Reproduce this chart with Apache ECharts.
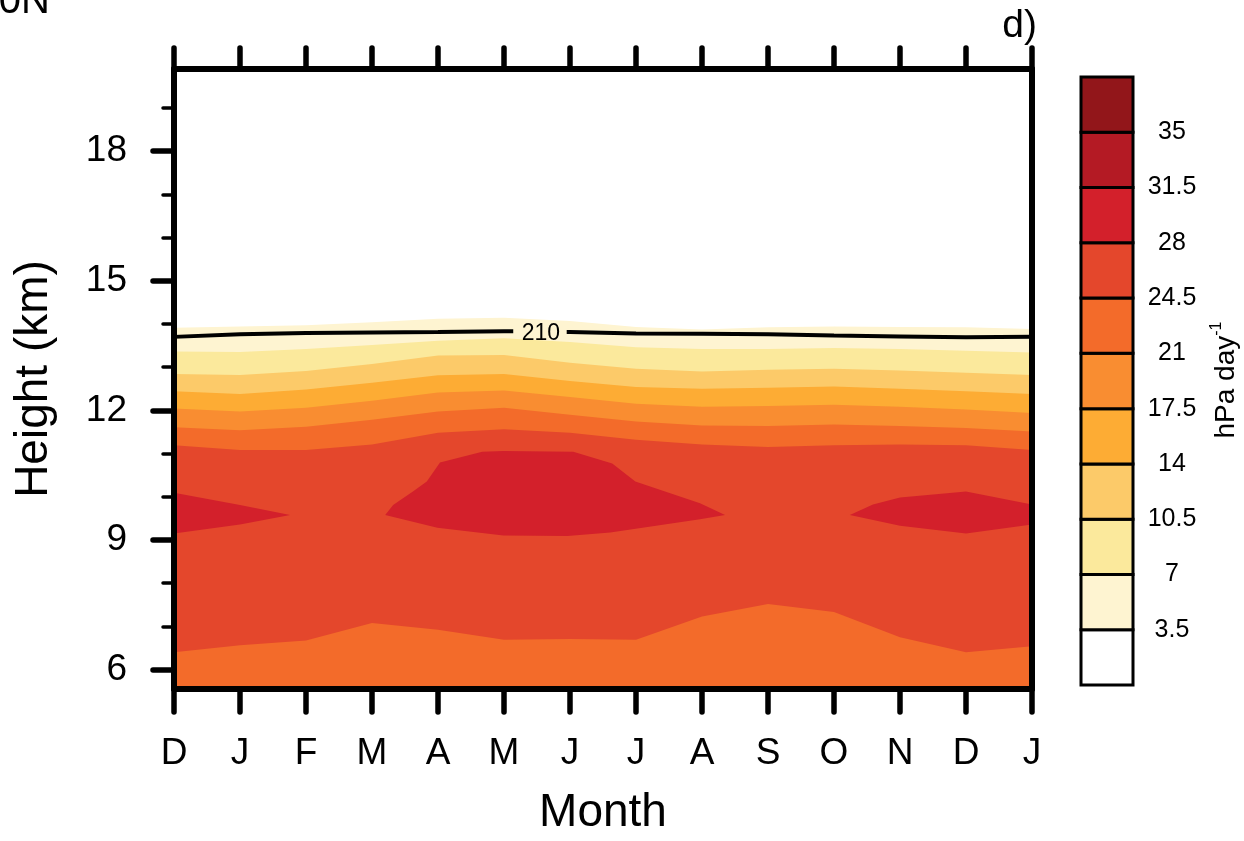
<!DOCTYPE html>
<html><head><meta charset="utf-8">
<script src="https://cdn.jsdelivr.net/npm/echarts@6/dist/echarts.min.js"></script>
<style>html,body{margin:0;padding:0;background:#fff}#c{width:1244px;height:841px}</style>
</head><body><div id="c"></div>
<script>
// ---------- data ----------
const months = ['D','J','F','M','A','M','J','J','A','S','O','N','D','J'];
const monthIdx = [0,1,2,3,4,5,6,7,8,9,10,11,12,13];
const levels = [3.5, 7, 10.5, 14, 17.5, 21, 24.5, 28, 31.5, 35];
const bandColors = ['#FFFFFF','#FEF4D1','#FBE99C','#FCCA69','#FDAC34','#F98D31','#F36B2A','#E4472C','#D3202B','#B41A24','#92161A'];
const yMajorTicks = [6, 9, 12, 15, 18];
const yMinorTicks = [7, 8, 10, 11, 13, 14, 16, 17, 19];

// contour heights (km) at each month column
const c3_5  = [13.91,13.94,13.97,14.04,14.12,14.14,14.07,13.93,13.87,13.92,13.94,13.93,13.92,13.88];
const c7    = [13.36,13.35,13.42,13.51,13.61,13.67,13.58,13.46,13.42,13.42,13.44,13.42,13.38,13.34];
const c10_5 = [12.84,12.82,12.91,13.07,13.27,13.28,13.10,12.96,12.90,12.94,12.96,12.92,12.87,12.82];
const c14   = [12.44,12.38,12.48,12.64,12.81,12.84,12.68,12.54,12.50,12.52,12.55,12.50,12.44,12.38];
const c17_5 = [12.04,11.97,12.06,12.22,12.41,12.46,12.31,12.15,12.08,12.10,12.13,12.08,12.02,11.94];
const c21   = [11.61,11.54,11.62,11.78,11.97,12.06,11.90,11.74,11.65,11.64,11.67,11.64,11.59,11.51];
const c24_5Top    = [11.19,11.08,11.08,11.21,11.48,11.56,11.48,11.32,11.21,11.15,11.19,11.21,11.19,11.08];
const c24_5Bottom = [6.40,6.56,6.67,7.08,6.92,6.69,6.71,6.69,7.23,7.52,7.33,6.75,6.40,6.54];

// 28 contour closed regions (x in month index, y in km)
const blobAUpperX = [0, 1, 1.76];             const blobAUpperY = [10.09, 9.81, 9.58];
const blobALowerX = [0, 1, 1.76];             const blobALowerY = [9.15, 9.36, 9.58];
const blobBUpperX = [3.2,3.32,3.62,3.83,4.03,4.67,4.99,6.05,6.64,6.99,7.97,8.35];
const blobBUpperY = [9.58,9.81,10.12,10.35,10.79,11.04,11.06,11.04,10.77,10.35,9.85,9.58];
const blobBLowerX = [3.2,3.99,4.99,5.96,6.61,7.97,8.35];
const blobBLowerY = [9.58,9.28,9.10,9.09,9.17,9.48,9.58];
const blobCUpperX = [10.24,10.59,11,12,13];   const blobCUpperY = [9.58,9.82,9.98,10.12,9.82];
const blobCLowerX = [10.24,11,12,13];         const blobCLowerY = [9.58,9.33,9.15,9.36];

// 210 contour line (two pieces around its label)
const line210LeftX  = [0,1,2,3,4,5,5.14];
const line210LeftY  = [13.70,13.76,13.79,13.80,13.81,13.83,13.83];
const line210RightX = [5.95,6,7,8,9,10,11,12,13];
const line210RightY = [13.81,13.81,13.78,13.77,13.76,13.73,13.71,13.69,13.70];
const line210Label = '210';
const line210LabelPos = [5.56, 13.78];

// ---------- chart ----------
const FONT = "'Liberation Sans', Arial, Helvetica, sans-serif";
const Y_MIN = 5.55, Y_MAX = 19.9;
const zip = (xs, ys) => xs.map((x, i) => [x, ys[i]]);

function polySeries(lowerX, lowerY, upperX, upperY, color, z) {
  return {
    type: 'custom', xAxisIndex: 0, yAxisIndex: 0, clip: true, z: z, silent: true,
    data: [[lowerX[0], Y_MIN]],
    renderItem: function (params, api) {
      const pts = [];
      for (let i = 0; i < lowerX.length; i++) pts.push(api.coord([lowerX[i], lowerY[i]]));
      for (let i = upperX.length - 1; i >= 0; i--) pts.push(api.coord([upperX[i], upperY[i]]));
      return { type: 'polygon', shape: { points: pts }, style: { fill: color } };
    }
  };
}
const floor = monthIdx.map(() => Y_MIN - 1);
const series = [
  polySeries(monthIdx, floor, monthIdx, c3_5,  bandColors[1], 1),
  polySeries(monthIdx, floor, monthIdx, c7,    bandColors[2], 1),
  polySeries(monthIdx, floor, monthIdx, c10_5, bandColors[3], 1),
  polySeries(monthIdx, floor, monthIdx, c14,   bandColors[4], 1),
  polySeries(monthIdx, floor, monthIdx, c17_5, bandColors[5], 1),
  polySeries(monthIdx, floor, monthIdx, c21,   bandColors[6], 1),
  polySeries(monthIdx, c24_5Bottom, monthIdx, c24_5Top, bandColors[7], 1),
  polySeries(blobALowerX, blobALowerY, blobAUpperX, blobAUpperY, bandColors[8], 1),
  polySeries(blobBLowerX, blobBLowerY, blobBUpperX, blobBUpperY, bandColors[8], 1),
  polySeries(blobCLowerX, blobCLowerY, blobCUpperX, blobCUpperY, bandColors[8], 1),
  { type: 'line', xAxisIndex: 0, yAxisIndex: 0, data: zip(line210LeftX, line210LeftY), showSymbol: false, z: 5,
    lineStyle: { color: '#000', width: 4 }, silent: true },
  { type: 'line', xAxisIndex: 0, yAxisIndex: 0, data: zip(line210RightX, line210RightY), showSymbol: false, z: 5,
    lineStyle: { color: '#000', width: 4 }, silent: true },
  { type: 'custom', xAxisIndex: 0, yAxisIndex: 0, z: 6, silent: true,
    data: [line210LabelPos],
    renderItem: function (params, api) {
      const p = api.coord([api.value(0), api.value(1)]);
      return { type: 'text', x: p[0], y: p[1],
               style: { text: line210Label, align: 'center', verticalAlign: 'middle', fontSize: 23,
                        fill: '#000', fontFamily: FONT } };
    } },
  { type: 'custom', xAxisIndex: 2, yAxisIndex: 3, z: 3, silent: true,
    data: bandColors.map((c, i) => [0.5, i]),
    renderItem: function (params, api) {
      const i = api.value(1);
      const p0 = api.coord([0, i]);
      const p1 = api.coord([1, i + 1]);
      return { type: 'rect', shape: { x: p0[0], y: p1[1], width: p1[0] - p0[0], height: p0[1] - p1[1] },
               style: { fill: bandColors[i], stroke: '#000', lineWidth: 3 } };
    } }
];

const axisLineStyle = { color: '#000', width: 6 };
const option = {
  backgroundColor: '#fff',
  animation: false,
  textStyle: { fontFamily: FONT },
  grid: [
    { left: 174, top: 69, width: 858, height: 622, show: false },
    { left: 1081, top: 77, width: 52, height: 608, show: false }
  ],
  xAxis: [
    { gridIndex: 0, type: 'value', min: 0, max: 13, interval: 1, position: 'bottom', z: 10,
      axisLine: { show: true, onZero: false, lineStyle: axisLineStyle },
      axisTick: { show: true, length: 23, lineStyle: { color: '#000', width: 5.5, cap: 'round' } },
      axisLabel: { formatter: v => months[v], fontSize: 37, color: '#000', margin: 46, fontFamily: FONT },
      splitLine: { show: false },
      name: 'Month', nameLocation: 'middle', nameGap: 101,
      nameTextStyle: { fontSize: 46, color: '#000', fontFamily: FONT } },
    { gridIndex: 0, type: 'value', min: 0, max: 13, interval: 1, position: 'top', z: 10,
      axisLine: { show: true, onZero: false, lineStyle: axisLineStyle },
      axisTick: { show: true, length: 21, lineStyle: { color: '#000', width: 5.5, cap: 'round' } },
      axisLabel: { show: false }, splitLine: { show: false } },
    { gridIndex: 1, type: 'value', min: 0, max: 1, show: false }
  ],
  yAxis: [
    { gridIndex: 0, type: 'value', min: Y_MIN, max: Y_MAX, position: 'left', z: 10,
      axisLine: { show: true, onZero: false, lineStyle: axisLineStyle },
      axisTick: { show: true, customValues: yMajorTicks, length: 21, lineStyle: { color: '#000', width: 5.5, cap: 'round' } },
      axisLabel: { customValues: yMajorTicks, fontSize: 37, color: '#000', margin: 47, fontFamily: FONT },
      splitLine: { show: false },
      name: 'Height (km)', nameLocation: 'middle', nameRotate: 90, nameGap: 117,
      nameTextStyle: { fontSize: 46, color: '#000', fontFamily: FONT } },
    { gridIndex: 0, type: 'value', min: Y_MIN, max: Y_MAX, position: 'left', offset: 0, z: 10,
      axisLine: { show: false },
      axisTick: { show: true, customValues: yMinorTicks, length: 11, lineStyle: { color: '#000', width: 3.5, cap: 'round' } },
      axisLabel: { show: false }, splitLine: { show: false } },
    { gridIndex: 0, type: 'value', min: Y_MIN, max: Y_MAX, position: 'right', offset: 0, z: 10,
      axisLine: { show: true, onZero: false, lineStyle: axisLineStyle },
      axisTick: { show: false }, axisLabel: { show: false }, splitLine: { show: false } },
    { gridIndex: 1, type: 'value', min: 0, max: 11, position: 'right', z: 10,
      axisLine: { show: false }, axisTick: { show: false }, splitLine: { show: false },
      axisLabel: { customValues: [1,2,3,4,5,6,7,8,9,10], formatter: v => String(levels[v - 1]),
                   align: 'center', margin: 39, fontSize: 25, color: '#000', fontFamily: FONT } }
  ],
  graphic: [
    { type: 'text', x: 1226, y: 380, rotation: Math.PI / 2, z: 20,
      style: { text: 'hPa day{sup|-1}', align: 'center', verticalAlign: 'middle', fontSize: 28, fill: '#000',
               fontFamily: FONT, rich: { sup: { fontSize: 16, verticalAlign: 'top', lineHeight: 34, fontFamily: FONT, fill: '#000' } } } },
    { type: 'text', x: 1037, y: 26, z: 20,
      style: { text: 'd)', align: 'right', verticalAlign: 'middle', fontSize: 39, fill: '#000', fontFamily: FONT } },
    { type: 'text', x: 50, y: 2, z: 20,
      style: { text: '0N', align: 'right', verticalAlign: 'middle', fontSize: 40, fill: '#000', fontFamily: FONT } }
  ],
  series: series
};
const chart = echarts.init(document.getElementById('c'), null, { renderer: 'canvas' });
chart.setOption(option);
</script></body></html>
